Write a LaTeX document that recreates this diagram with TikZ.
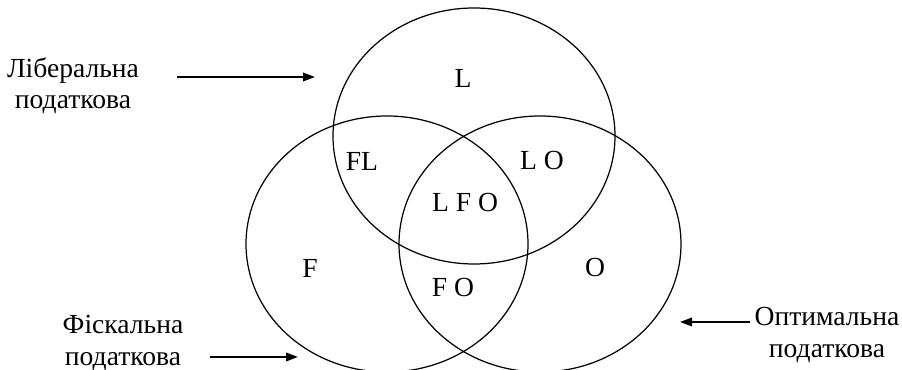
\documentclass[tikz,border=0pt]{standalone}
\usepackage{fontspec}
\setmainfont{Liberation Serif}
\usetikzlibrary{arrows.meta,positioning}

\begin{document}
\begin{tikzpicture}[
    font=\fontsize{15.7}{17.8}\selectfont,
    >={Triangle[length=2.4mm, width=1.7mm]},
    set/.style={draw=black, line width=0.7pt},
    region/.style={inner sep=0pt},
    caption/.style={align=center, inner sep=0pt},
    pointer/.style={->, line width=1.1pt},
]
    \useasboundingbox (0,0) rectangle (18.04,7.4);

    % --- Sets ---
    \draw[set] (9.48,4.68) ellipse [x radius=2.82, y radius=2.56];
    \draw[set] (7.74,2.52) ellipse [x radius=2.82, y radius=2.56];
    \draw[set] (10.80,2.52) ellipse [x radius=2.82, y radius=2.56];

    % --- Region labels ---
    \node[region] (rL)   at (9.26, 5.84) {L};
    \node[region] (rFL)  at (7.24, 4.18) {FL};
    \node[region] (rLO)  at (10.84, 4.18) {L O};
    \node[region] (rLFO) at (9.30, 3.34) {L F O};
    \node[region] (rF)   at (6.20, 2.04) {F};
    \node[region] (rFO)  at (9.06, 1.64) {F O};
    \node[region] (rO)   at (11.90, 2.04) {O};

    % --- Captions ---
    \node[caption] (lib) at (1.46, 5.68) {Ліберальна\\податкова};
    \node[caption] (fis) at (2.46, 0.54) {Фіскальна\\податкова};
    \node[caption] (opt) at (16.54, 0.70) {Оптимальна\\податкова};

    % --- Pointers ---
    \coordinate (lib-tail) at (3.54, 5.86);
    \coordinate (lib-tip)  at (6.30, 5.86);
    \coordinate (fis-tail) at (4.20, 0.26);
    \coordinate (fis-tip)  at (5.96, 0.26);
    \coordinate (opt-tail) at (15.00, 0.96);
    \coordinate (opt-tip)  at (13.60, 0.96);
    \draw[pointer] (lib-tail) -- (lib-tip);
    \draw[pointer] (fis-tail) -- (fis-tip);
    \draw[pointer] (opt-tail) -- (opt-tip);

\end{tikzpicture}
\end{document}
